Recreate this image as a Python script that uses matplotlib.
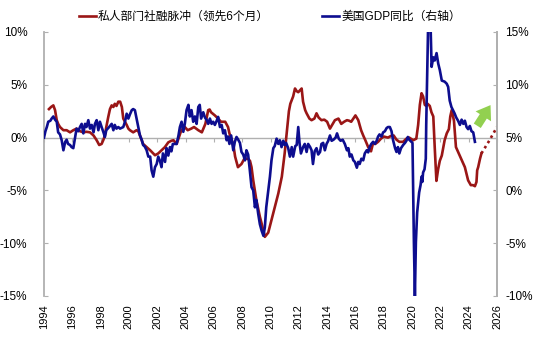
import matplotlib
matplotlib.use("Agg")
import matplotlib.pyplot as plt
from matplotlib.ticker import FuncFormatter, MultipleLocator

plt.rcParams['font.family'] = ['Liberation Sans', 'Noto Sans CJK SC', 'DejaVu Sans']

# Private-sector credit impulse, led by 6 months (%, left axis)
credit_years = [
    1994.35, 1994.5, 1994.66, 1994.78, 1994.9, 1995.0, 1995.13, 1995.37, 1995.6, 1995.84,
    1996.07, 1996.3, 1996.55, 1996.78, 1997.0, 1997.25, 1997.5, 1997.72, 1997.9, 1998.07,
    1998.2, 1998.3, 1998.4, 1998.54, 1998.66, 1998.78, 1998.9, 1999.0, 1999.12, 1999.25,
    1999.38, 1999.5, 1999.6, 1999.72, 1999.84, 1999.96, 2000.07, 2000.3, 2000.54, 2000.66,
    2000.78, 2000.9, 2001.0, 2001.25, 2001.5, 2001.72, 2001.84, 2002.07, 2002.3, 2002.54,
    2002.78, 2003.0, 2003.15, 2003.37, 2003.5, 2003.7, 2003.95, 2004.15, 2004.4, 2004.6,
    2004.9, 2005.15, 2005.4, 2005.6, 2005.7, 2005.8, 2006.07, 2006.3, 2006.5, 2006.8,
    2007.0, 2007.1, 2007.3, 2007.4, 2007.5, 2007.7, 2007.95, 2008.15, 2008.4, 2008.55,
    2008.66, 2008.78, 2009.0, 2009.25, 2009.5, 2009.6, 2009.72, 2009.84, 2010.07, 2010.3,
    2010.55, 2010.8, 2011.0, 2011.15, 2011.3, 2011.4, 2011.6, 2011.73, 2011.85, 2011.96,
    2012.1, 2012.2, 2012.3, 2012.45, 2012.55, 2012.75, 2012.9, 2013.1, 2013.25, 2013.4,
    2013.6, 2013.8, 2014.0, 2014.2, 2014.35, 2014.55, 2014.8, 2015.0, 2015.2, 2015.4,
    2015.55, 2015.7, 2015.85, 2016.0, 2016.2, 2016.4, 2016.55, 2016.7, 2016.9, 2017.1,
    2017.25, 2017.4, 2017.6, 2017.8, 2018.0, 2018.3, 2018.5, 2018.7, 2018.9, 2019.1,
    2019.37, 2019.6, 2019.8, 2020.08, 2020.3, 2020.43, 2020.55, 2020.67, 2020.78, 2020.9,
    2021.0, 2021.1, 2021.25, 2021.37, 2021.5, 2021.6, 2021.72, 2021.84, 2021.96, 2022.1,
    2022.3, 2022.45, 2022.6, 2022.7, 2022.8, 2022.96, 2023.1, 2023.4, 2023.73, 2023.96,
    2024.15, 2024.3, 2024.44, 2024.55, 2024.6, 2024.67, 2024.8, 2024.9,
]
credit_vals = [
    2.7, 2.9, 3.05, 2.6, 1.65, 1.3, 1.0, 0.7, 0.7, 0.5,
    0.7, 0.85, 0.6, 0.5, 0.55, 0.5, 0.2, -0.25, -0.7, -0.6,
    -0.2, 0.2, 1.0, 1.96, 2.7, 3.05, 2.9, 3.2, 3.0, 3.4,
    3.4, 2.9, 1.8, 1.5, 1.2, 0.85, 0.7, 0.5, 0.7, 0.6,
    0.2, -0.25, -0.6, -0.9, -1.2, -1.5, -1.67, -1.5, -1.2, -0.9,
    -0.45, -0.3, -0.25, -0.6, -0.1, 0.7, 1.0, 0.7, 0.85, 1.0,
    0.7, 0.5, 1.3, 2.6, 2.66, 2.4, 2.1, 1.8, 1.5, 1.5,
    1.0, 0.4, -0.4, -0.9, -1.8, -2.8, -2.5, -2.0, -2.0, -2.2,
    -2.8, -4.05, -5.9, -7.5, -8.8, -9.4, -9.2, -9.0, -7.8, -6.6,
    -5.3, -3.7, -1.5, 0.5, 2.5, 3.2, 3.9, 4.65, 4.4, 4.3,
    4.5, 4.65, 3.4, 2.6, 2.3, 1.8, 1.65, 1.8, 2.3, 1.9,
    1.65, 1.7, 1.5, 0.85, 1.2, 1.65, 1.8, 1.3, 1.5, 1.65,
    1.6, 1.5, 1.8, 2.1, 1.65, 0.7, 0.2, -0.25, -0.9, -1.3,
    -0.5, -0.6, -0.4, -0.1, 0.1, 0.0, 0.15, 0.2, -0.2, -0.4,
    -0.4, -0.1, 0.0, -0.25, -0.1, 1.2, 3.1, 4.2, 3.9, 3.1,
    3.0, 3.2, 3.0, 2.4, 2.0, -0.9, -4.1, -3.0, -2.2, -1.7,
    -0.25, 0.4, 0.8, 2.0, 2.6, 1.6, -0.9, -1.8, -2.8, -4.05,
    -4.5, -4.5, -4.6, -4.2, -3.1, -2.8, -2.0, -1.5,
]

# Projection of the credit impulse (dotted)
credit_fcst_years = [2024.9, 2025.45, 2026.0]
credit_fcst_vals = [-1.5, -0.3, 1.0]

# US real GDP, year over year (%, right axis)
gdp_years = [
    1994.0, 1994.1, 1994.2, 1994.3, 1994.45, 1994.54, 1994.66, 1994.78, 1994.9, 1995.0,
    1995.13, 1995.25, 1995.37, 1995.5, 1995.6, 1995.7, 1995.84, 1995.95, 1996.07, 1996.2,
    1996.3, 1996.42, 1996.54, 1996.66, 1996.78, 1996.9, 1997.0, 1997.13, 1997.25, 1997.37,
    1997.5, 1997.6, 1997.72, 1997.84, 1997.95, 1998.07, 1998.2, 1998.3, 1998.4, 1998.6,
    1998.78, 1998.9, 1999.0, 1999.12, 1999.25, 1999.37, 1999.6, 1999.72, 1999.84, 1999.96,
    2000.07, 2000.2, 2000.3, 2000.42, 2000.54, 2000.66, 2000.78, 2000.9, 2001.0, 2001.12,
    2001.25, 2001.37, 2001.5, 2001.6, 2001.72, 2001.84, 2001.96, 2002.07, 2002.19, 2002.3,
    2002.4, 2002.55, 2002.66, 2002.78, 2002.9, 2003.0, 2003.1, 2003.37, 2003.5, 2003.6,
    2003.72, 2003.84, 2003.95, 2004.07, 2004.2, 2004.3, 2004.42, 2004.54, 2004.66, 2004.78,
    2004.9, 2005.0, 2005.1, 2005.25, 2005.37, 2005.5, 2005.6, 2005.72, 2005.84, 2005.95,
    2006.07, 2006.2, 2006.3, 2006.43, 2006.55, 2006.66, 2006.78, 2006.9, 2007.0, 2007.1,
    2007.22, 2007.37, 2007.48, 2007.6, 2007.72, 2007.84, 2007.95, 2008.07, 2008.2, 2008.3,
    2008.42, 2008.54, 2008.66, 2008.78, 2008.9, 2009.0, 2009.13, 2009.25, 2009.37, 2009.5,
    2009.6, 2009.7, 2009.84, 2009.96, 2010.07, 2010.2, 2010.3, 2010.43, 2010.55, 2010.66,
    2010.78, 2010.9, 2011.0, 2011.1, 2011.25, 2011.37, 2011.5, 2011.6, 2011.75, 2011.85,
    2011.96, 2012.05, 2012.15, 2012.3, 2012.42, 2012.55, 2012.66, 2012.8, 2012.9, 2013.0,
    2013.12, 2013.25, 2013.37, 2013.5, 2013.6, 2013.72, 2013.84, 2013.96, 2014.08, 2014.2,
    2014.32, 2014.45, 2014.6, 2014.7, 2014.82, 2014.95, 2015.1, 2015.25, 2015.4, 2015.5,
    2015.6, 2015.72, 2015.85, 2015.96, 2016.1, 2016.2, 2016.3, 2016.42, 2016.55, 2016.66,
    2016.8, 2016.9, 2017.0, 2017.12, 2017.25, 2017.37, 2017.5, 2017.6, 2017.7, 2017.84,
    2017.96, 2018.08, 2018.2, 2018.3, 2018.43, 2018.55, 2018.66, 2018.8, 2018.9, 2019.0,
    2019.1, 2019.22, 2019.37, 2019.5, 2019.6, 2019.7, 2019.8, 2019.96, 2020.03, 2020.08,
    2020.13, 2020.2, 2020.27, 2020.36, 2020.5, 2020.6, 2020.67, 2020.72, 2020.78, 2020.88,
    2020.97, 2021.0, 2021.07, 2021.14, 2021.3, 2021.38, 2021.5, 2021.6, 2021.73, 2021.85,
    2021.96, 2022.1, 2022.3, 2022.45, 2022.55, 2022.66, 2022.78, 2023.0, 2023.12, 2023.25,
    2023.38, 2023.5, 2023.62, 2023.73, 2023.85, 2023.96, 2024.08, 2024.2, 2024.32, 2024.44,
]
gdp_vals = [
    5.0, 5.6, 6.0, 6.5, 6.6, 6.8, 7.0, 6.7, 6.5, 5.5,
    5.3, 4.75, 3.8, 4.6, 4.8, 4.4, 4.3, 4.1, 4.0, 5.06,
    5.85, 5.6, 6.0, 6.3, 5.4, 6.3, 6.0, 6.65, 5.85, 6.2,
    5.5, 6.3, 6.65, 5.7, 6.5, 6.0, 5.5, 5.06, 5.7, 6.0,
    6.3, 5.7, 6.2, 5.85, 6.0, 5.85, 6.0, 6.5, 7.26, 6.8,
    7.2, 7.6, 7.7, 7.6, 6.8, 6.0, 5.2, 4.8, 4.3, 4.15,
    3.8, 3.2, 3.2, 1.9, 1.3, 2.2, 2.5, 3.2, 2.8, 2.2,
    3.5, 2.7, 4.0, 3.3, 4.1, 3.7, 4.4, 4.4, 5.2, 6.0,
    6.5, 5.55, 6.33, 7.6, 8.1, 7.0, 7.6, 6.5, 7.0, 6.3,
    7.9, 8.1, 6.8, 7.4, 6.9, 6.65, 6.3, 6.8, 6.3, 6.5,
    6.2, 6.6, 6.96, 6.0, 6.2, 5.4, 5.7, 4.75, 5.1, 4.4,
    5.2, 3.8, 4.6, 5.06, 4.8, 4.5, 3.64, 3.4, 2.85, 3.8,
    3.4, 1.9, 0.3, 0.0, -1.6, -0.9, -2.2, -3.2, -3.8, -4.3,
    -3.5, -1.6, 0.0, 1.3, 2.85, 4.0, 4.2, 4.9, 4.4, 4.75,
    4.1, 4.7, 4.3, 4.5, 4.0, 3.2, 4.1, 3.2, 4.2, 4.3,
    6.0, 4.5, 3.5, 4.1, 4.4, 3.64, 4.4, 4.1, 3.8, 2.5,
    3.7, 4.0, 3.4, 3.64, 4.4, 4.5, 3.8, 4.4, 4.7, 5.2,
    4.7, 4.8, 5.0, 5.4, 4.9, 4.7, 4.8, 4.4, 3.8, 4.0,
    3.2, 3.4, 2.85, 2.7, 2.15, 2.7, 2.5, 3.0, 2.85, 3.5,
    3.8, 3.6, 4.1, 4.4, 4.6, 4.4, 4.7, 5.1, 5.3, 5.1,
    5.5, 5.6, 5.9, 6.0, 6.0, 5.6, 4.75, 4.0, 3.64, 4.1,
    3.5, 4.0, 4.3, 4.5, 4.7, 5.06, 4.8, 4.6, 4.5, -0.2,
    -4.9, -10.0, -4.9, -2.1, -0.2, 0.5, 1.3, 0.8, 1.7, 2.0,
    3.0, 6.2, 10.9, 16.0, 16.0, 11.7, 12.6, 12.3, 13.0, 12.0,
    11.4, 10.4, 10.3, 10.1, 9.8, 8.5, 7.9, 7.3, 6.9, 6.6,
    6.2, 6.7, 6.3, 6.6, 6.0, 5.8, 6.1, 5.6, 5.5, 4.6,
]

year_ticks = list(range(1994, 2027, 2))

RED = '#9A1616'
BLUE = '#0D0D8F'
GRID_GREY = '#B0B0B0'

fig = plt.figure(figsize=(5.5, 3.41), dpi=100)
ax = fig.add_axes([44 / 550, 1 - 296 / 341, (497 - 44) / 550, (296 - 32) / 341])
ax2 = ax.twinx()

pct = FuncFormatter(lambda v, _: f"{v:.0f}%")

# left axis: credit impulse
l1, = ax.plot(credit_years, credit_vals, color=RED, lw=1.9, solid_joinstyle='round',
              label='私人部门社融脉冲（领先6个月）', zorder=3)
ax.plot(credit_fcst_years, credit_fcst_vals, color=RED, lw=1.9, ls=(0, (1, 1.3)), zorder=3)
ax.set_ylim(-15, 10)
ax.yaxis.set_major_locator(MultipleLocator(5))
ax.yaxis.set_major_formatter(pct)
ax.set_xlim(1994, 2026)
ax.set_xticks(year_ticks)
ax.set_xticklabels([str(y) for y in year_ticks], rotation=90, fontsize=8)
ax.tick_params(axis='x', length=0, pad=6)
ax.tick_params(axis='y', direction='in', length=3, color=GRID_GREY, labelsize=8.5, pad=12)
ax.axhline(0, color=GRID_GREY, lw=1.0, zorder=1)

# small year ticks sitting on the zero line
zero_axis = ax.secondary_xaxis((0 - (-15)) / 25)
zero_axis.set_xticks(year_ticks)
zero_axis.tick_params(direction='in', length=3, color=GRID_GREY, labelbottom=False, labeltop=False)
zero_axis.spines['bottom'].set_visible(False)
zero_axis.spines['top'].set_visible(False)

# right axis: US GDP
l2, = ax2.plot(gdp_years, gdp_vals, color=BLUE, lw=1.9, solid_joinstyle='round',
               label='美国GDP同比（右轴）', zorder=4)
ax2.set_ylim(-10, 15)
ax2.yaxis.set_major_locator(MultipleLocator(5))
ax2.yaxis.set_major_formatter(pct)
ax2.tick_params(axis='y', direction='in', length=3, color=GRID_GREY, labelsize=8.5, pad=6)

for a in (ax, ax2):
    a.spines['top'].set_visible(False)
    a.spines['bottom'].set_visible(False)
    a.spines['left'].set_color(GRID_GREY)
    a.spines['right'].set_color(GRID_GREY)
    a.spines['left'].set_linewidth(1.3)
    a.spines['right'].set_linewidth(1.3)
ax2.spines['left'].set_visible(False)

# upward arrow hinting at the projected rebound
ax2.annotate('', xy=(2025.65, 8.3), xytext=(2024.5, 5.9),
             arrowprops=dict(arrowstyle='simple,head_width=1.1,head_length=0.8,tail_width=0.5',
                             mutation_scale=12, color='#92D050', lw=0))

fig.legend(handles=[l1, l2], loc='center', bbox_to_anchor=(270 / 550, 1 - 17 / 341),
           ncol=2, frameon=False, fontsize=8.5, handlelength=1.4, handletextpad=0.2,
           columnspacing=4.5)

fig.savefig('out.png', dpi=100)
